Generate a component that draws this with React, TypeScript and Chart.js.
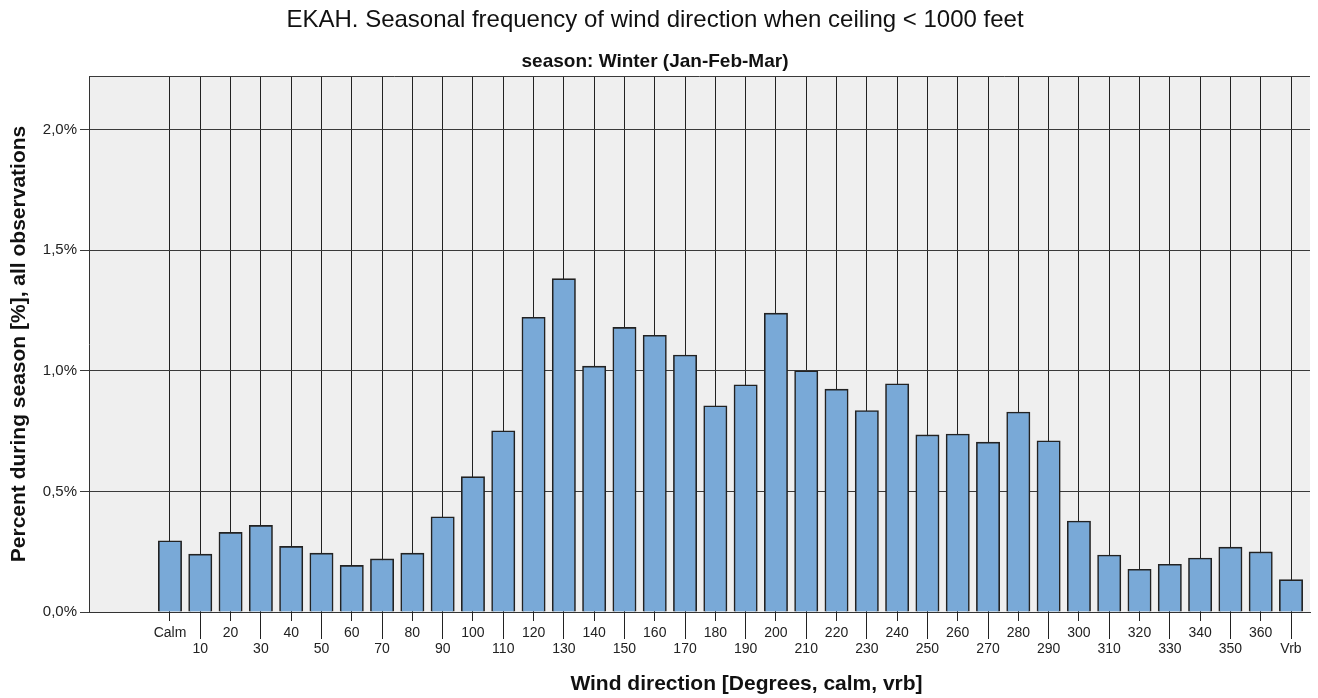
import React, { useEffect, useRef } from 'react';
import { Chart, registerables } from 'chart.js';

Chart.register(...registerables);

const TITLE = 'EKAH. Seasonal frequency of wind direction when ceiling < 1000 feet';
const SUBTITLE = 'season: Winter (Jan-Feb-Mar)';
const X_TITLE = 'Wind direction [Degrees, calm, vrb]';
const Y_TITLE = 'Percent during season [%], all observations';

const CATEGORIES = [
  'Calm', '10', '20', '30', '40', '50', '60', '70', '80', '90',
  '100', '110', '120', '130', '140', '150', '160', '170', '180', '190',
  '200', '210', '220', '230', '240', '250', '260', '270', '280', '290',
  '300', '310', '320', '330', '340', '350', '360', 'Vrb',
];

const PERCENT = [
  0.295, 0.240, 0.330, 0.359, 0.272, 0.244, 0.193, 0.220, 0.244, 0.395,
  0.561, 0.751, 1.222, 1.382, 1.019, 1.180, 1.147, 1.065, 0.855, 0.942,
  1.239, 1.000, 0.924, 0.835, 0.946, 0.734, 0.738, 0.704, 0.829, 0.710,
  0.377, 0.236, 0.177, 0.198, 0.224, 0.269, 0.249, 0.134,
];

const Y_TICKS = [0, 0.5, 1.0, 1.5, 2.0];
const Y_MAX = 2.222;
const X_MIN = -2.673;
const X_MAX = 37.627;

const FONT = "'Liberation Sans', Arial, sans-serif";

const align = (px: number) => Math.round(px - 0.5) + 0.5;

const decorations = {
  id: 'decorations',
  beforeDraw(chart: any) {
    const { ctx, chartArea: a } = chart;
    ctx.save();
    ctx.fillStyle = '#efefef';
    ctx.fillRect(a.left, a.top, a.right - a.left, a.bottom - a.top);
    ctx.restore();
  },
  beforeDatasetsDraw(chart: any) {
    const { ctx, chartArea: a } = chart;
    const xs = chart.scales.x;
    ctx.save();
    ctx.lineWidth = 1;
    ctx.strokeStyle = '#3a3a3a';
    ctx.beginPath();
    ctx.moveTo(a.left, align(a.top));
    ctx.lineTo(a.right, align(a.top));
    ctx.stroke();
    ctx.strokeStyle = '#222';
    ctx.beginPath();
    CATEGORIES.forEach((_, i) => {
      const px = align(xs.getPixelForValue(i));
      ctx.moveTo(px, a.bottom);
      ctx.lineTo(px, a.bottom + (i % 2 === 1 ? 27 : 9));
    });
    ctx.stroke();
    ctx.restore();
  },
  afterDraw(chart: any) {
    const { ctx } = chart;
    ctx.save();
    ctx.font = `bold 21px ${FONT}`;
    ctx.fillStyle = '#111';
    ctx.textAlign = 'center';
    ctx.textBaseline = 'middle';
    ctx.fillText(X_TITLE, 746.5, 684);
    ctx.restore();
  },
};

export default function App() {
  const ref = useRef<HTMLCanvasElement>(null);

  useEffect(() => {
    document.body.style.margin = '0';
    const chart = new Chart(ref.current as HTMLCanvasElement, {
      type: 'bar',
      data: {
        datasets: [
          {
            data: PERCENT.map((v, i) => ({ x: i, y: v })),
            backgroundColor: '#79a9d7',
            borderColor: '#222',
            borderWidth: 1.6,
            barThickness: 23.3,
          },
        ],
      },
      options: {
        animation: false,
        responsive: false,
        devicePixelRatio: 1,
        layout: { padding: { left: 0, right: 8, top: 0, bottom: 0 } },
        plugins: {
          legend: { display: false },
          tooltip: { enabled: false },
          title: {
            display: true,
            text: TITLE,
            color: '#111',
            font: { family: FONT, size: 24, weight: 'normal', lineHeight: 1.2 },
            padding: { top: 5.6, bottom: 15.8 },
          },
          subtitle: {
            display: true,
            text: SUBTITLE,
            color: '#111',
            font: { family: FONT, size: 19, weight: 'bold', lineHeight: 1.2 },
            padding: { top: 0, bottom: 3.0 },
          },
        },
        scales: {
          x: {
            type: 'linear',
            offset: false,
            min: X_MIN,
            max: X_MAX,
            afterBuildTicks: (s: any) => {
              s.ticks = CATEGORIES.map((_, i) => ({ value: i }));
            },
            afterFit: (s: any) => {
              s.height = 86;
            },
            ticks: {
              autoSkip: false,
              minRotation: 0,
              maxRotation: 0,
              padding: 4,
              color: '#222',
              font: { family: FONT, size: 14, lineHeight: 16 / 14 },
              callback: (v: any) => {
                const i = Math.round(Number(v));
                const lab = CATEGORIES[i] ?? '';
                return i % 2 === 0 ? lab : ['', lab];
              },
            },
            grid: { offset: false, color: '#222', lineWidth: 1, tickLength: 9 },
            border: { display: true, color: '#333', width: 1 },
          },
          y: {
            min: 0,
            max: Y_MAX,
            afterBuildTicks: (s: any) => {
              s.ticks = Y_TICKS.map((v) => ({ value: v }));
            },
            afterFit: (s: any) => {
              s.width = 89;
            },
            ticks: {
              padding: 3,
              color: '#222',
              font: { family: FONT, size: 15 },
              callback: (v: any) => Number(v).toFixed(1).replace('.', ',') + '%',
            },
            grid: { color: '#3a3a3a', lineWidth: 1, tickLength: 9 },
            border: { display: true, color: '#333', width: 1 },
            title: {
              display: true,
              text: Y_TITLE,
              color: '#111',
              font: { family: FONT, size: 21, weight: 'bold', lineHeight: 1.2 },
              padding: { top: 6.4, bottom: 0 },
            },
          },
        },
      },
      plugins: [decorations],
    } as any);
    return () => chart.destroy();
  }, []);

  return (
    <div style={{ width: 1318, height: 698 }}>
      <canvas ref={ref} width={1318} height={698} style={{ display: 'block', width: 1318, height: 698 }} />
    </div>
  );
}
